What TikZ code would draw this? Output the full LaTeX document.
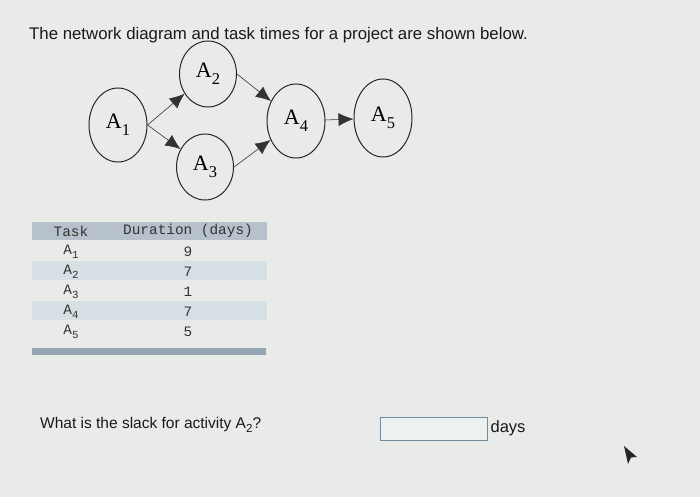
\documentclass[tikz,border=0pt]{standalone}
\usepackage{fontspec}
\setmainfont{Liberation Serif}
\setsansfont{Liberation Sans}
\setmonofont{Liberation Mono}
\usepackage{tikz}
\usetikzlibrary{shapes, arrows.meta, positioning}
\usepackage{xcolor}
\definecolor{screen}{RGB}{233,235,233}
\definecolor{headband}{RGB}{182,193,203}
\definecolor{stripe}{RGB}{214,223,228}
\definecolor{footbar}{RGB}{150,165,180}
\definecolor{boxline}{RGB}{112,140,160}
\definecolor{boxfill}{RGB}{236,241,241}
\newcommand{\lowsub}[1]{\raisebox{-0.3em}{\scalebox{0.75}{#1}}}

\begin{document}
\begin{tikzpicture}[x=1pt, y=-1pt, thin]
        % Define block styles
        \tikzstyle{event} = [ellipse, draw=black!85, line width=1pt, minimum width=58, minimum height=74, inner sep=0pt, font=\fontsize{22}{22}\selectfont]
        \tikzstyle{line} = [draw=black!80, line width=0.6pt, -{Latex[length=15pt, width=13pt]}]
        \tikzstyle{cell} = [font=\ttfamily\fontsize{14.4}{15}\selectfont, text=black!80, inner sep=0pt]
        \tikzstyle{prose} = [font=\sffamily, text=black!90, inner sep=0pt, anchor=west]

        % Background and frame
        \fill [screen] (0,0) rectangle (700,497);
        \useasboundingbox (0,0) rectangle (700,497);

        \node [prose, font=\sffamily\fontsize{16.8}{17}\selectfont] (title) at (29,35) {The network diagram and task times for a project are shown below.};

        % Define nodes
        \node [event] (A1) at (118,125) {A\lowsub{1}};
        \node [event, minimum width=57, minimum height=66] (A2) at (208,74) {A\lowsub{2}};
        \node [event, minimum width=57, minimum height=66] (A3) at (205,167) {A\lowsub{3}};
        \node [event] (A4) at (296,121) {A\lowsub{4}};
        \node [event, minimum height=78] (A5) at (383,118) {A\lowsub{5}};

        % Connect nodes with paths
        \path [line] (A1.east) -- (A2);
        \path [line] (A1.east) -- (A3);
        \path [line] (A2.east) -- (A4);
        \path [line] (A3.east) -- (A4);
        \path [line] (A4) -- (A5);

        % Table of durations
        \fill [headband] (32,222) rectangle (267,240);
        \fill [stripe] (32,261) rectangle (267,280);
        \fill [stripe] (32,301) rectangle (267,320);
        \fill [footbar] (32,348) rectangle (266,355);

        \node [cell] (task) at (71,231) {Task};
        \node [cell] (dur) at (188,231) {Duration (days)};
        \foreach \t/\d [count=\i] in {1/9, 2/7, 3/1, 4/7, 5/5} {
            \node [cell] (t\i) at (71,232+20*\i) {A\lowsub{\t}};
            \node [cell] (d\i) at (188,232+20*\i) {\d};
        }

        % Question and answer box
        \node [prose, font=\sffamily\fontsize{15.5}{16}\selectfont] (question) at (40,425) {What is the slack for activity A\lowsub{2}?};
        \node [draw=boxline, fill=boxfill, line width=0.8pt, minimum width=107, minimum height=23, inner sep=0pt] (answer) at (433.5,428.5) {};
        \node [prose, font=\sffamily\fontsize{16.5}{17}\selectfont, right=3pt of answer] (days) {days};

        % Mouse pointer
        \fill [black!85] (624,446) -- (637,457) -- (631,457.5) -- (628,464) -- cycle;

    \end{tikzpicture}
\end{document}
